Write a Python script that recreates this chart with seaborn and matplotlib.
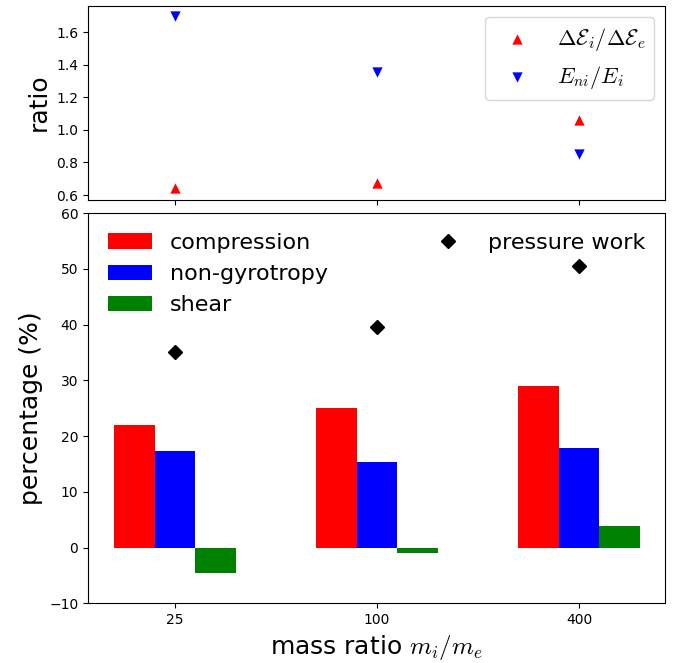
import matplotlib
matplotlib.use("Agg")
import matplotlib.pyplot as plt
import seaborn as sns
import numpy as np
import pandas as pd

plt.rcParams["mathtext.fontset"] = "cm"

# mass ratios m_i/m_e
mass_ratio = ["25", "100", "400"]

# top panel: ratios
dE_ratio = [0.641, 0.675, 1.061]     # dE_i / dE_e
Eni_ratio = [1.702, 1.358, 0.850]    # E_ni / E_i

# bottom panel: percentages
compression = [22.0, 25.0, 29.0]
nongyro = [17.3, 15.3, 17.8]
shear = [-4.5, -0.9, 3.8]
pressure_work = [35.0, 39.5, 50.5]

terms = ["compression", "non-gyrotropy", "shear"]
colors = ["red", "blue", "green"]

df = pd.DataFrame({
    "mass": mass_ratio * 3,
    "term": np.repeat(terms, 3),
    "pct": compression + nongyro + shear,
})
xpos = np.arange(len(mass_ratio))

fig = plt.figure(figsize=(6.85, 6.63), dpi=100)
ax1 = fig.add_axes([0.1285, 0.699, 0.843, 0.2925])
ax2 = fig.add_axes([0.1285, 0.09, 0.843, 0.5887], sharex=ax1)

# bars
sns.barplot(data=df, x="mass", y="pct", hue="term", hue_order=terms,
            palette=colors, width=0.6, gap=0, errorbar=None,
            linewidth=0, saturation=1, ax=ax2)
ax2.legend(loc="upper left", fontsize=16, frameon=False)
leg1 = ax2.get_legend()

pw = ax2.plot(xpos, pressure_work, "D", color="black", markersize=7,
              label="pressure work")
leg2 = ax2.legend(handles=pw, loc="upper right", fontsize=16, frameon=False)
ax2.add_artist(leg1)

ax2.set_ylim(-10, 60)
ax2.set_yticks(np.arange(-10, 61, 10))
ax2.set_xlim(-0.431, 2.428)
ax2.set_xlabel("mass ratio $m_i/m_e$", fontsize=18)
ax2.set_ylabel("percentage (%)", fontsize=18)

# ratios
sns.scatterplot(x=xpos, y=dE_ratio, marker="^", color="red", s=55,
                linewidth=0, label=r"$\Delta\mathcal{E}_i/\Delta\mathcal{E}_e$",
                ax=ax1)
sns.scatterplot(x=xpos, y=Eni_ratio, marker="v", color="blue", s=55,
                linewidth=0, label=r"$E_{ni}/E_i$", ax=ax1)
ax1.legend(loc="upper right", fontsize=16)
ax1.set_ylim(0.572, 1.764)
ax1.set_yticks([0.6, 0.8, 1.0, 1.2, 1.4, 1.6])
ax1.set_ylabel("ratio", fontsize=18)
ax1.set_xlabel("")
ax1.tick_params(axis="x", labelbottom=False)

fig.savefig("out.png", dpi=100)
